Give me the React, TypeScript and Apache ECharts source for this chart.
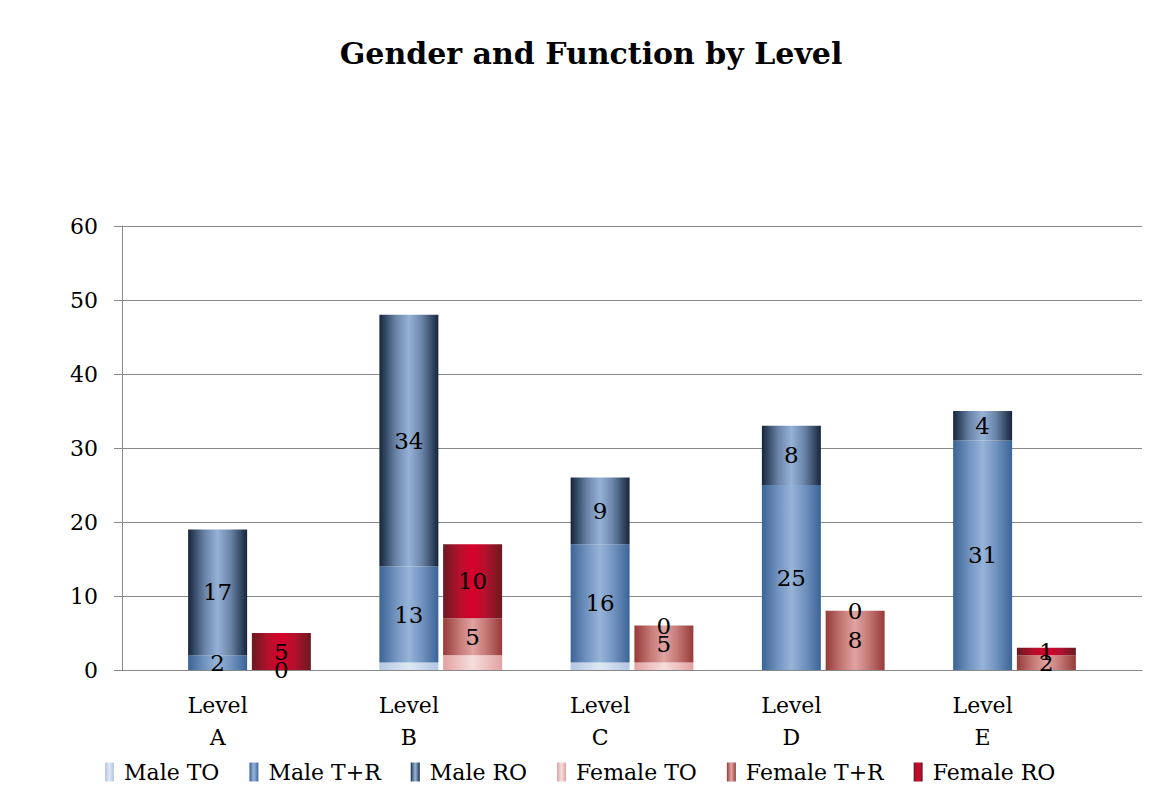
import React, { useEffect, useRef } from "react";
import * as echarts from "echarts";

// Headcount per level, split by gender and function
const levels = ["A", "B", "C", "D", "E"];
const maleTO = [0, 1, 1, 0, 0];
const maleTR = [2, 13, 16, 25, 31];
const maleRO = [17, 34, 9, 8, 4];
const femaleTO = [0, 2, 1, 0, 0];
const femaleTR = [0, 5, 5, 8, 2];
const femaleRO = [5, 10, 0, 0, 1];
const yTicks = [0, 10, 20, 30, 40, 50, 60];

const FONT = "'DejaVu Serif', 'Liberation Serif', serif";

// Each level gets three slots: male bar, female bar, spacer (plus a leading spacer)
const SLOTS = levels.length * 3 + 1;
const slotLabels: string[] = Array.from({ length: SLOTS }, () => "");
levels.forEach((lv, i) => {
  slotLabels[1 + 3 * i] = "Level\n" + lv;
});

function placeAt(values: number[], offset: number): (number | null)[] {
  const arr: (number | null)[] = Array.from({ length: SLOTS }, () => null);
  values.forEach((v, i) => {
    arr[offset + 3 * i] = v;
  });
  return arr;
}

function cylinder(edge: string, mid: string, center: string) {
  return new echarts.graphic.LinearGradient(0, 0, 1, 0, [
    { offset: 0, color: edge },
    { offset: 0.28, color: mid },
    { offset: 0.5, color: center },
    { offset: 0.72, color: mid },
    { offset: 1, color: edge },
  ]);
}

type SeriesDef = {
  name: string;
  values: number[];
  offset: number;
  fill: [string, string, string];
  legend: string;
  label: boolean;
};

const seriesDefs: SeriesDef[] = [
  { name: "Male TO", values: maleTO, offset: 1, fill: ["#b4c8e2", "#cbd9ec", "#dfe8f3"], legend: "#c6d6ea", label: false },
  { name: "Male T+R", values: maleTR, offset: 1, fill: ["#3a6497", "#7394c0", "#97b4d8"], legend: "#5b80b0", label: true },
  { name: "Male RO", values: maleRO, offset: 1, fill: ["#16253c", "#6a84a8", "#95b2d6"], legend: "#2c4466", label: true },
  { name: "Female TO", values: femaleTO, offset: 2, fill: ["#e3a1a0", "#eec4c3", "#f4dedd"], legend: "#ebbcbb", label: false },
  { name: "Female T+R", values: femaleTR, offset: 2, fill: ["#963a38", "#c57a78", "#e0a3a2"], legend: "#b4605e", label: true },
  { name: "Female RO", values: femaleRO, offset: 2, fill: ["#6a1a20", "#b5102c", "#d8002c"], legend: "#b0122b", label: true },
];

export default function App() {
  const ref = useRef<HTMLDivElement>(null);

  useEffect(() => {
    document.body.style.margin = "0";
    if (!ref.current) return;
    const chart = echarts.init(ref.current, undefined, { renderer: "svg" });

    const series = seriesDefs.map((d) => ({
      name: d.name,
      type: "bar",
      stack: "all",
      barCategoryGap: "7.5%",
      data: placeAt(d.values, d.offset),
      itemStyle: { color: cylinder(d.fill[0], d.fill[1], d.fill[2]) },
      label: {
        show: d.label,
        position: "inside",
        color: "#000",
        fontFamily: FONT,
        fontSize: 23,
        formatter: (p: any) => String(p.value),
      },
      emphasis: { disabled: true },
    }));

    chart.setOption({
      animation: false,
      backgroundColor: "#ffffff",
      color: seriesDefs.map((d) => d.legend),
      title: {
        text: "Gender and Function by Level",
        left: 586,
        top: 33,
        textAlign: "center",
        textStyle: {
          fontFamily: FONT,
          fontWeight: "bold",
          fontSize: 30,
          color: "#000",
        },
      },
      legend: {
        bottom: 15,
        left: 100,
        icon: "rect",
        itemWidth: 9,
        itemHeight: 19,
        itemGap: 30,
        textStyle: { fontFamily: FONT, fontSize: 22, color: "#000", padding: [0, 0, 0, 5] },
        data: seriesDefs.map((d) => d.name),
      },
      grid: { left: 122, right: 12, top: 226, bottom: 133, containLabel: false },
      xAxis: {
        type: "category",
        data: slotLabels,
        axisLine: { lineStyle: { color: "#898989" } },
        axisTick: { show: false },
        axisLabel: {
          interval: 0,
          fontFamily: FONT,
          fontSize: 22,
          color: "#000",
          lineHeight: 32,
          margin: 19,
        },
      },
      yAxis: {
        type: "value",
        min: yTicks[0],
        max: yTicks[yTicks.length - 1],
        interval: 10,
        axisLine: { show: true, lineStyle: { color: "#898989" } },
        axisTick: { show: true, length: 8, lineStyle: { color: "#898989" } },
        splitLine: { lineStyle: { color: "#898989" } },
        axisLabel: {
          fontFamily: FONT,
          fontSize: 22,
          color: "#000",
          margin: 24,
        },
      },
      series,
    });

    return () => chart.dispose();
  }, []);

  return <div ref={ref} style={{ width: 1154, height: 803 }} />;
}
